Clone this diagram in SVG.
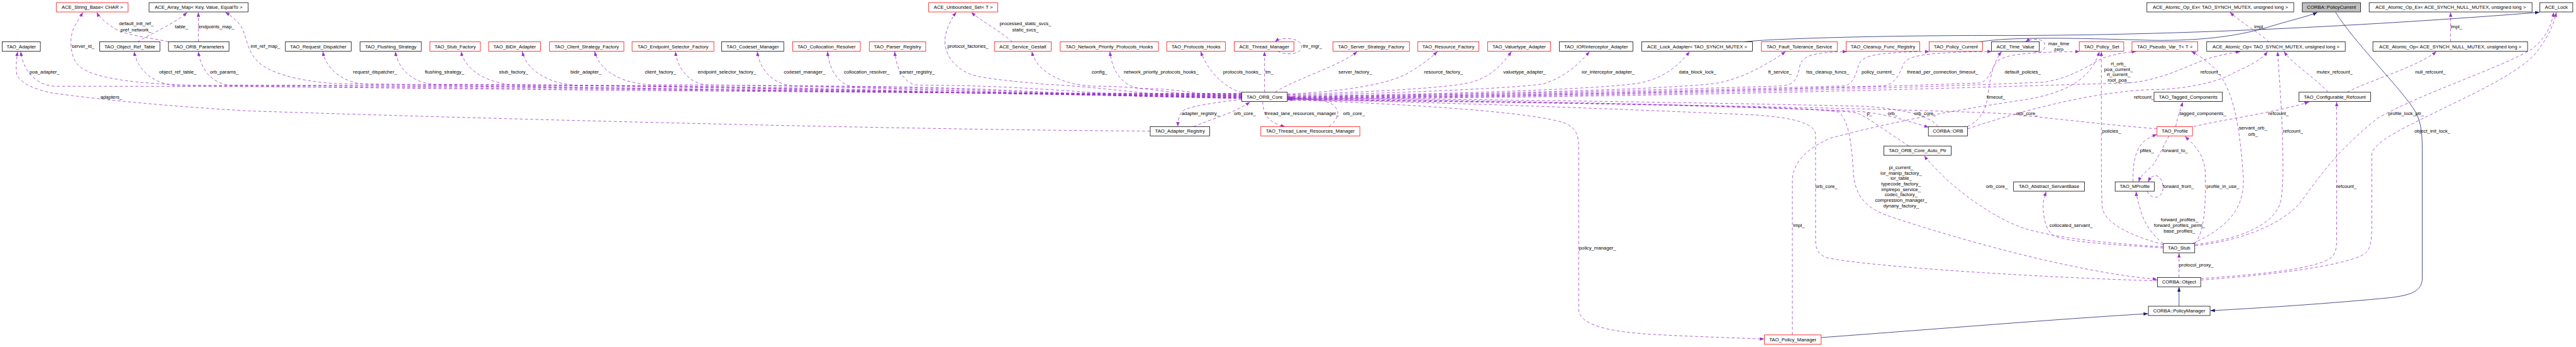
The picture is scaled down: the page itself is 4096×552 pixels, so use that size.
<svg xmlns="http://www.w3.org/2000/svg" width="4096" height="552" viewBox="0 0 4096 552">
<style>
text{font-family:"Liberation Sans",Arial,sans-serif;font-size:13px;fill:#000}
.n text{text-anchor:middle}
.n rect{fill:#fff;stroke:#000;stroke-width:1.3}
.r rect{stroke:#ff0000}
.g rect{fill:#bfbfbf}
.e{fill:none;stroke:#9a32cd;stroke-width:1.3;stroke-dasharray:8 6;marker-end:url(#ap)}
.i{fill:none;stroke:#191970;stroke-width:1.3;marker-end:url(#ab)}
.m{text-anchor:middle}
</style>
<defs>
<marker id="ap" markerUnits="userSpaceOnUse" viewBox="0 0 12 9" refX="12" refY="4.5" markerWidth="12" markerHeight="9" orient="auto"><path d="M0,0 L12,4.5 L0,9 z" fill="#9a32cd"/></marker>
<marker id="ab" markerUnits="userSpaceOnUse" viewBox="0 0 12 9" refX="12" refY="4.5" markerWidth="12" markerHeight="9" orient="auto"><path d="M0,0 L12,4.5 L0,9 z" fill="#191970"/></marker>
</defs>
<rect width="4096" height="552" fill="#fff"/>
<g transform="scale(0.594)">
<g id="edges">
<path class="e" d="M3324,250 C2054,250 1420,231 150,231 C103,231 63,196 55.5,138"/>
<path class="e" d="M3324,252 C2186,252 1618,229 480,229 C420,229 369,194 359,138"/>
<path class="e" d="M3324,253 C2242,253 1702,228 620,228 C576,228 538,193 531,138"/>
<path class="e" d="M3324,255 C2390,255 1924,226 990,226 C927,226 874,191 864,138"/>
<path class="e" d="M3324,256 C2462,256 2032,226 1170,226 C1114,226 1067,191 1058,138"/>
<path class="e" d="M3324,257 C2554,257 2170,229 1400,229 C1317,229 1247,194 1234,138"/>
<path class="e" d="M3324,258 C2618,258 2266,229 1560,229 C1479,229 1411,194 1398,138"/>
<path class="e" d="M3324,259 C2694,259 2380,227 1750,227 C1671,227 1605,192 1592,138"/>
<path class="e" d="M3324,260 C2754,260 2470,228 1900,228 C1854,228 1815,193 1808,138"/>
<path class="e" d="M3324,261 C2846,261 2608,230 2130,230 C2078,230 2035,195 2027,138"/>
<path class="e" d="M3324,262 C2910,262 2704,232 2290,232 C2252,232 2221,197 2215,138"/>
<path class="e" d="M3324,263 C2978,263 2806,228 2460,228 C2427,228 2400,193 2395,138"/>
<path class="e" d="M3324,262 C3170,262 3094,231 2940,231 C2851,231 2776,196 2762,138"/>
<path class="e" d="M3324,258 C3218,258 3166,237 3060,237 C3015,237 2978,202 2971,138"/>
<path class="e" d="M3324,248 C3280,235 3235,195 3214,138"/>
<path class="e" d="M3324,251 C2400,251 900,236 500,228 C330,222 240,205 210,175 C185,150 185,95 200,70 C208,55 215,45 222,33"/>
<path class="e" d="M3324,254 C2600,254 1300,228 900,224 C800,218 720,195 690,165 C660,135 660,95 645,70 C632,52 615,40 603,33"/>
<path class="e" d="M3324,264 C3100,260 2950,232 2800,226 C2720,218 2640,212 2600,200 C2550,180 2525,140 2530,100 C2535,70 2550,45 2560,33"/>
<path class="e" d="M3079,351 C2400,348 1200,315 666,297 C450,285 250,265 133,248 C80,235 55,220 45,200 C42,180 44,160 47,138"/>
<path class="e" d="M451,112 C400,100 330,95 300,72 C280,58 265,45 259,33"/>
<path class="e" d="M368,112 C400,92 470,62 501,33"/>
<path class="e" d="M531,112 L531,33"/>
<path class="e" d="M2710,112 C2680,85 2625,55 2600,33"/>
<path class="e" d="M3420,137 C3445,150 3485,145 3484,124 C3483,100 3430,98 3413,112"/>
<path class="e" d="M3385,247 L3385,138"/>
<path class="e" d="M3413,247 C3460,215 3590,175 3633,138"/>
<path class="e" d="M3446,252 C3600,245 3720,225 3770,195 C3805,175 3830,155 3848,138"/>
<path class="e" d="M3446,254 C3700,245 3880,235 3940,220 C3990,205 4020,175 4046,138"/>
<path class="e" d="M3446,256 C3800,248 4060,235 4130,225 C4180,210 4220,180 4255,138"/>
<path class="e" d="M3446,258 C3900,252 4300,238 4390,222 C4450,210 4490,180 4523,138"/>
<path class="e" d="M3446,259 C4000,252 4500,238 4600,222 C4660,210 4720,180 4780,138"/>
<path class="e" d="M3446,260 C4000,255 4650,234 4770,230 C4805,228 4813,205 4817,180 C4822,150 4850,140 4944,138"/>
<path class="e" d="M3446,261 C4100,256 4800,234 4935,230 C4960,228 4968,200 4975,175 C4985,150 5010,140 5165,138"/>
<path class="e" d="M3446,262 C4200,257 4900,234 5040,230 C5070,228 5085,200 5095,172 C5108,150 5140,140 5332,138"/>
<path class="e" d="M3446,263 C4300,258 5100,230 5300,222 C5325,215 5330,185 5345,165 C5370,145 5420,140 5567,138"/>
<path class="e" d="M3446,264 C4400,259 5200,232 5470,220 C5540,212 5600,170 5630,155 C5660,145 5690,140 5718,138"/>
<path class="e" d="M3446,265 C4500,262 5400,230 5700,222 C5780,215 5850,180 5900,160 C5940,148 5970,142 5997,138"/>
<path class="e" d="M3446,266 C4200,272 4800,290 4970,298 C5040,302 5110,325 5163,341"/>
<path class="e" d="M3446,268 C4300,276 4850,285 4920,300 C4955,320 4958,420 4962,470 C4968,530 5000,560 5060,580 C5300,660 5600,735 5775,748"/>
<path class="e" d="M3446,267 C3800,280 4100,300 4190,330 C4220,345 4226,360 4226,400 L4226,830 C4230,870 4300,890 4450,897 C4550,902 4650,905 4723,908"/>
<path class="e" d="M3380,272 C3381,305 3395,330 3440,339"/>
<path class="e" d="M3324,266 C3250,275 3175,285 3163,300 C3155,312 3153,325 3153,339"/>
<path class="e" d="M3195,339 C3240,320 3310,300 3346,273"/>
<path class="e" d="M3557,339 C3590,315 3590,285 3550,272 C3520,265 3480,263 3447,263"/>
<path class="e" d="M5188,339 C5170,315 5120,295 5000,285 C4600,275 3900,265 3447,262"/>
<path class="e" d="M5110,391 C5060,360 5010,320 4970,302 C4900,290 4200,270 3447,264"/>
<path class="e" d="M5775,752 C5500,745 5000,715 4890,690 C4862,680 4860,660 4860,640 L4860,360 C4858,330 4800,315 4700,308 C4300,290 3800,272 3447,266"/>
<path class="e" d="M5774,345 C5650,335 5500,318 5380,305 C5100,290 4200,275 3447,265"/>
<path class="e" d="M4798,897 L4798,480 C4800,440 4830,400 4900,370 C5050,330 5200,300 5400,270 C5550,250 5600,200 5620,138"/>
<path class="e" d="M5791,655 C5700,630 5640,600 5628,560 C5625,520 5625,460 5625,400 L5625,138"/>
<path class="e" d="M5791,664 C5650,655 5530,648 5495,630 C5470,610 5468,560 5470,540 C5472,530 5475,520 5477,513"/>
<path class="e" d="M5791,661 C5650,652 5500,638 5414,610 C5330,580 5240,510 5200,470 C5180,450 5160,430 5151,417"/>
<path class="e" d="M5876,652 C5900,620 5905,560 5903,460 C5900,410 5870,385 5849,365"/>
<path class="e" d="M5791,652 C5760,630 5735,590 5728,555 C5722,535 5719,525 5718,513"/>
<path class="e" d="M5806,364 C5795,385 5780,415 5765,440 C5745,460 5730,470 5725,487"/>
<path class="e" d="M5710,487 C5708,430 5720,395 5740,378 C5750,370 5760,365 5774,360"/>
<path class="e" d="M5748,512 C5760,540 5792,530 5790,500 C5788,470 5765,458 5750,487"/>
<path class="e" d="M5824,339 C5830,310 5838,290 5843,273"/>
<path class="e" d="M5872,339 C5950,320 6100,300 6181,273"/>
<path class="e" d="M5870,652 C5960,610 6015,560 6004,460 C5995,340 5980,240 5930,185 C5905,160 5880,145 5866,138"/>
<path class="e" d="M5876,655 C6000,640 6090,600 6105,540 C6112,500 6111,470 6111,420 C6110,300 6100,200 6097,138"/>
<path class="e" d="M5876,658 C6000,645 6110,600 6160,540 C6210,470 6260,400 6364,317 C6480,250 6700,180 6780,130 C6815,100 6830,70 6836,33"/>
<path class="e" d="M5891,750 C6100,735 6280,710 6330,680 C6348,665 6349,640 6349,600 L6349,410 C6360,380 6420,350 6474,323 C6600,260 6740,200 6790,140 C6820,100 6835,70 6843,33"/>
<path class="e" d="M5891,746 C6050,735 6200,720 6240,690 C6252,680 6255,665 6255,640 L6255,273"/>
<path class="e" d="M5833,743 L5833,678"/>
<path class="e" d="M6232,247 C6200,210 6140,175 6114,138"/>
<path class="e" d="M6283,247 C6330,220 6470,180 6522,138"/>
<path class="e" d="M6074,112 C6050,90 6000,60 5969,33"/>
<path class="e" d="M6560,112 L6560,33"/>
<path class="e" d="M5266,339 C5305,320 5318,290 5322,250 C5328,200 5340,160 5358,138"/>
<path class="e" d="M5267,345 C5400,300 5600,245 5760,240 C5840,240 5930,222 5970,200 C6010,180 6050,165 6070,138"/>
<path class="e" d="M5445,137 C5460,146 5475,135 5474,120 C5473,104 5440,100 5422,112"/>
<path class="i" d="M4875,904 C5200,880 5500,855 5750,840"/>
<path class="i" d="M5833,820 L5833,769"/>
<path class="i" d="M6252,33 C6300,110 6420,230 6460,290 C6480,320 6484,350 6484,400 L6484,750 C6480,780 6455,790 6400,797 C6250,812 6050,825 5917,832"/>
<path class="i" d="M4670,112 C4720,105 5000,95 5340,95 C5700,96 6200,80 6798,33"/>
<path class="i" d="M5299,112 C5380,100 5500,100 5760,108 C5900,110 6000,95 6080,70 C6140,52 6185,42 6203,33"/>
</g>
<g id="edge-labels">
<text class="m" x="365" y="67.5">default_init_ref_</text>
<text class="m" x="364" y="83.5">pref_network_</text>
<text x="468" y="75.5">table_</text>
<text x="531" y="75.5">endpoints_map_</text>
<text x="192" y="128.5">server_id_</text>
<text x="671" y="128.5">init_ref_map_</text>
<text x="79" y="196.5">poa_adapter_</text>
<text x="426" y="196.5">object_ref_table_</text>
<text x="562" y="196.5">orb_params_</text>
<text x="945" y="196.5">request_dispatcher_</text>
<text x="1137" y="196.5">flushing_strategy_</text>
<text x="269" y="263.5">adapters_</text>
<text x="1336" y="196.5">stub_factory_</text>
<text x="1527" y="196.5">bidir_adapter_</text>
<text x="1726" y="196.5">client_factory_</text>
<text x="1868" y="196.5">endpoint_selector_factory_</text>
<text x="2098" y="196.5">codeset_manager_</text>
<text x="2259" y="196.5">collocation_resolver_</text>
<text x="2408" y="196.5">parser_registry_</text>
<text class="m" x="2745" y="67.5">processed_static_svcs_</text>
<text class="m" x="2745" y="83.5">static_svcs_</text>
<text x="2536" y="128.5">protocol_factories_</text>
<text x="2922" y="196.5">config_</text>
<text x="3008" y="196.5">network_priority_protocols_hooks_</text>
<text x="3274" y="196.5">protocols_hooks_</text>
<text x="3387" y="196.5">tm_</text>
<text x="3487" y="128.5">thr_mgr_</text>
<text x="3163" y="308.5">adapter_registry_</text>
<text x="3303" y="308.5">orb_core_</text>
<text x="3385" y="308.5">thread_lane_resources_manager_</text>
<text x="3595" y="308.5">orb_core_</text>
<text x="3583" y="196.5">server_factory_</text>
<text x="3812" y="196.5">resource_factory_</text>
<text x="4024" y="196.5">valuetype_adapter_</text>
<text x="4234" y="196.5">ior_interceptor_adapter_</text>
<text x="4494" y="196.5">data_block_lock_</text>
<text x="4227" y="668.5">policy_manager_</text>
<text x="4733" y="196.5">ft_service_</text>
<text x="4835" y="196.5">tss_cleanup_funcs_</text>
<text x="4983" y="196.5">policy_current_</text>
<text x="5105" y="196.5">thread_per_connection_timeout_</text>
<text x="5366" y="196.5">default_policies_</text>
<text class="m" x="5511" y="121.5">max_time</text>
<text class="m" x="5511" y="136.5">zero</text>
<text class="m" x="5671" y="175.5">rt_orb_</text>
<text class="m" x="5671" y="189.5">poa_current_</text>
<text class="m" x="5671" y="204.5">rt_current_</text>
<text class="m" x="5671" y="219.5">root_poa_</text>
<text x="5318" y="263.5">timeout_</text>
<text x="5712" y="263.5">refcount_</text>
<text x="4997" y="308.5">p_</text>
<text x="5053" y="308.5">orb_</text>
<text x="5124" y="308.5">orb_core_</text>
<text x="5397" y="308.5">orb_core_</text>
<text x="5627" y="355.5">policies_</text>
<text x="5728" y="407.5">pfiles_</text>
<text x="5788" y="407.5">forward_to_</text>
<text class="m" x="5089" y="452.5">pi_current_</text>
<text class="m" x="5089" y="467.5">ior_manip_factory_</text>
<text class="m" x="5089" y="481.5">ior_table_</text>
<text class="m" x="5089" y="496.5">typecode_factory_</text>
<text class="m" x="5089" y="511.5">implrepo_service_</text>
<text class="m" x="5089" y="525.5">codec_factory_</text>
<text class="m" x="5089" y="540.5">compression_manager_</text>
<text class="m" x="5089" y="555.5">dynany_factory_</text>
<text x="4860" y="503.5">orb_core_</text>
<text x="5316" y="503.5">orb_core_</text>
<text x="4800" y="608.5">impl_</text>
<text x="5486" y="608.5">collocated_servant_</text>
<text x="6034" y="75.5">impl_</text>
<text x="6560" y="75.5">impl_</text>
<text x="5890" y="196.5">refcount_</text>
<text x="6201" y="196.5">mutex_refcount_</text>
<text x="6465" y="196.5">null_refcount_</text>
<text x="5834" y="308.5">tagged_components_</text>
<text x="6072" y="308.5">refcount_</text>
<text x="6393" y="308.5">profile_lock_ptr_</text>
<text class="m" x="6031" y="347.5">servant_orb_</text>
<text class="m" x="6031" y="363.5">orb_</text>
<text x="6111" y="355.5">refcount_</text>
<text x="6463" y="355.5">object_init_lock_</text>
<text x="5789" y="503.5">forward_from_</text>
<text x="5906" y="503.5">profile_in_use_</text>
<text x="6254" y="503.5">refcount_</text>
<text class="m" x="5834" y="592.5">forward_profiles_</text>
<text class="m" x="5834" y="608.5">forward_profiles_perm_</text>
<text class="m" x="5834" y="623.5">base_profiles_</text>
<text x="5833" y="713.5">protocol_proxy_</text>
</g>
<g id="n-ace-string-base" class="n r"><rect x="151" y="7" width="192" height="25"/><text x="247" y="24">ACE_String_Base&lt; CHAR &gt;</text></g>
<g id="n-ace-array-map" class="n"><rect x="399" y="7" width="265" height="25"/><text x="531.5" y="24">ACE_Array_Map&lt; Key, Value, EqualTo &gt;</text></g>
<g id="n-ace-unbounded-set" class="n r"><rect x="2486" y="7" width="185" height="25"/><text x="2578.5" y="24">ACE_Unbounded_Set&lt; T &gt;</text></g>
<g id="n-atomic-op-ex-mutex" class="n"><rect x="5747" y="7" width="393" height="25"/><text x="5943.5" y="24">ACE_Atomic_Op_Ex&lt; TAO_SYNCH_MUTEX, unsigned long &gt;</text></g>
<g id="n-policycurrent" class="n g"><rect x="6163" y="7" width="156" height="25"/><text x="6241" y="24">CORBA::PolicyCurrent</text></g>
<g id="n-atomic-op-ex-null" class="n"><rect x="6342" y="7" width="436" height="25"/><text x="6560" y="24">ACE_Atomic_Op_Ex&lt; ACE_SYNCH_NULL_MUTEX, unsigned long &gt;</text></g>
<g id="n-ace-lock" class="n"><rect x="6799" y="7" width="88" height="25"/><text x="6843" y="24">ACE_Lock</text></g>
<g id="n-tao-adapter" class="n"><rect x="6" y="112" width="102" height="25"/><text x="57" y="129">TAO_Adapter</text></g>
<g id="n-object-ref-table" class="n"><rect x="267" y="112" width="161" height="25"/><text x="347.5" y="129">TAO_Object_Ref_Table</text></g>
<g id="n-orb-parameters" class="n"><rect x="451" y="112" width="162" height="25"/><text x="532" y="129">TAO_ORB_Parameters</text></g>
<g id="n-request-dispatcher" class="n"><rect x="764" y="112" width="176" height="25"/><text x="852" y="129">TAO_Request_Dispatcher</text></g>
<g id="n-flushing-strategy" class="n"><rect x="964" y="112" width="164" height="25"/><text x="1046" y="129">TAO_Flushing_Strategy</text></g>
<g id="n-stub-factory" class="n r"><rect x="1151" y="112" width="135" height="25"/><text x="1218.5" y="129">TAO_Stub_Factory</text></g>
<g id="n-bidir-adapter" class="n r"><rect x="1308" y="112" width="139" height="25"/><text x="1377.5" y="129">TAO_BiDir_Adapter</text></g>
<g id="n-client-strategy-factory" class="n r"><rect x="1471" y="112" width="199" height="25"/><text x="1570.5" y="129">TAO_Client_Strategy_Factory</text></g>
<g id="n-endpoint-selector-factory" class="n r"><rect x="1692" y="112" width="219" height="25"/><text x="1801.5" y="129">TAO_Endpoint_Selector_Factory</text></g>
<g id="n-codeset-manager" class="n"><rect x="1932" y="112" width="166" height="25"/><text x="2015" y="129">TAO_Codeset_Manager</text></g>
<g id="n-collocation-resolver" class="n r"><rect x="2122" y="112" width="181" height="25"/><text x="2212.5" y="129">TAO_Collocation_Resolver</text></g>
<g id="n-parser-registry" class="n r"><rect x="2327" y="112" width="151" height="25"/><text x="2402.5" y="129">TAO_Parser_Registry</text></g>
<g id="n-service-gestalt" class="n r"><rect x="2662" y="112" width="152" height="25"/><text x="2738" y="129">ACE_Service_Gestalt</text></g>
<g id="n-network-priority-hooks" class="n r"><rect x="2838" y="112" width="263" height="25"/><text x="2969.5" y="129">TAO_Network_Priority_Protocols_Hooks</text></g>
<g id="n-protocols-hooks" class="n r"><rect x="3123" y="112" width="157" height="25"/><text x="3201.5" y="129">TAO_Protocols_Hooks</text></g>
<g id="n-thread-manager" class="n r"><rect x="3304" y="112" width="160" height="25"/><text x="3384" y="129">ACE_Thread_Manager</text></g>
<g id="n-server-strategy-factory" class="n r"><rect x="3568" y="112" width="205" height="25"/><text x="3670.5" y="129">TAO_Server_Strategy_Factory</text></g>
<g id="n-resource-factory" class="n r"><rect x="3795" y="112" width="164" height="25"/><text x="3877" y="129">TAO_Resource_Factory</text></g>
<g id="n-valuetype-adapter" class="n r"><rect x="3982" y="112" width="169" height="25"/><text x="4066.5" y="129">TAO_Valuetype_Adapter</text></g>
<g id="n-iorinterceptor-adapter" class="n"><rect x="4174" y="112" width="197" height="25"/><text x="4272.5" y="129">TAO_IORInterceptor_Adapter</text></g>
<g id="n-lock-adapter" class="n"><rect x="4395" y="112" width="296" height="25"/><text x="4543" y="129">ACE_Lock_Adapter&lt; TAO_SYNCH_MUTEX &gt;</text></g>
<g id="n-fault-tolerance" class="n r"><rect x="4715" y="112" width="203" height="25"/><text x="4816.5" y="129">TAO_Fault_Tolerance_Service</text></g>
<g id="n-cleanup-func-registry" class="n r"><rect x="4942" y="112" width="197" height="25"/><text x="5040.5" y="129">TAO_Cleanup_Func_Registry</text></g>
<g id="n-tao-policy-current" class="n r"><rect x="5164" y="112" width="143" height="25"/><text x="5235.5" y="129">TAO_Policy_Current</text></g>
<g id="n-time-value" class="n"><rect x="5331" y="112" width="128" height="25"/><text x="5395" y="129">ACE_Time_Value</text></g>
<g id="n-policy-set" class="n r"><rect x="5566" y="112" width="119" height="25"/><text x="5625.5" y="129">TAO_Policy_Set</text></g>
<g id="n-pseudo-var" class="n r"><rect x="5707" y="112" width="176" height="25"/><text x="5795" y="129">TAO_Pseudo_Var_T&lt; T &gt;</text></g>
<g id="n-atomic-op-mutex" class="n"><rect x="5907" y="112" width="371" height="25"/><text x="6092.5" y="129">ACE_Atomic_Op&lt; TAO_SYNCH_MUTEX, unsigned long &gt;</text></g>
<g id="n-atomic-op-null" class="n"><rect x="6352" y="112" width="414" height="25"/><text x="6559" y="129">ACE_Atomic_Op&lt; ACE_SYNCH_NULL_MUTEX, unsigned long &gt;</text></g>
<g id="n-orb-core" class="n"><rect x="3324" y="247" width="122" height="25"/><text x="3385" y="264">TAO_ORB_Core</text></g>
<g id="n-tagged-components" class="n"><rect x="5766" y="247" width="183" height="25"/><text x="5857.5" y="264">TAO_Tagged_Components</text></g>
<g id="n-configurable-refcount" class="n"><rect x="6154" y="247" width="192" height="25"/><text x="6250" y="264">TAO_Configurable_Refcount</text></g>
<g id="n-adapter-registry" class="n"><rect x="3079" y="339" width="159" height="25"/><text x="3158.5" y="356">TAO_Adapter_Registry</text></g>
<g id="n-thread-lane-rm" class="n r"><rect x="3375" y="339" width="265" height="25"/><text x="3507.5" y="356">TAO_Thread_Lane_Resources_Manager</text></g>
<g id="n-corba-orb" class="n"><rect x="5162" y="339" width="105" height="25"/><text x="5214.5" y="356">CORBA::ORB</text></g>
<g id="n-profile" class="n r"><rect x="5774" y="339" width="95" height="25"/><text x="5821.5" y="356">TAO_Profile</text></g>
<g id="n-orb-core-auto-ptr" class="n"><rect x="5043" y="391" width="180" height="25"/><text x="5133" y="408">TAO_ORB_Core_Auto_Ptr</text></g>
<g id="n-abstract-servantbase" class="n"><rect x="5390" y="487" width="190" height="25"/><text x="5485" y="504">TAO_Abstract_ServantBase</text></g>
<g id="n-mprofile" class="n"><rect x="5662" y="487" width="105" height="25"/><text x="5714.5" y="504">TAO_MProfile</text></g>
<g id="n-stub" class="n"><rect x="5791" y="652" width="84" height="25"/><text x="5833" y="669">TAO_Stub</text></g>
<g id="n-corba-object" class="n"><rect x="5775" y="743" width="116" height="25"/><text x="5833" y="760">CORBA::Object</text></g>
<g id="n-corba-policymanager" class="n"><rect x="5751" y="820" width="165" height="25"/><text x="5833.5" y="837">CORBA::PolicyManager</text></g>
<g id="n-tao-policy-manager" class="n r"><rect x="4723" y="897" width="152" height="25"/><text x="4799" y="914">TAO_Policy_Manager</text></g>
</g>
</svg>
